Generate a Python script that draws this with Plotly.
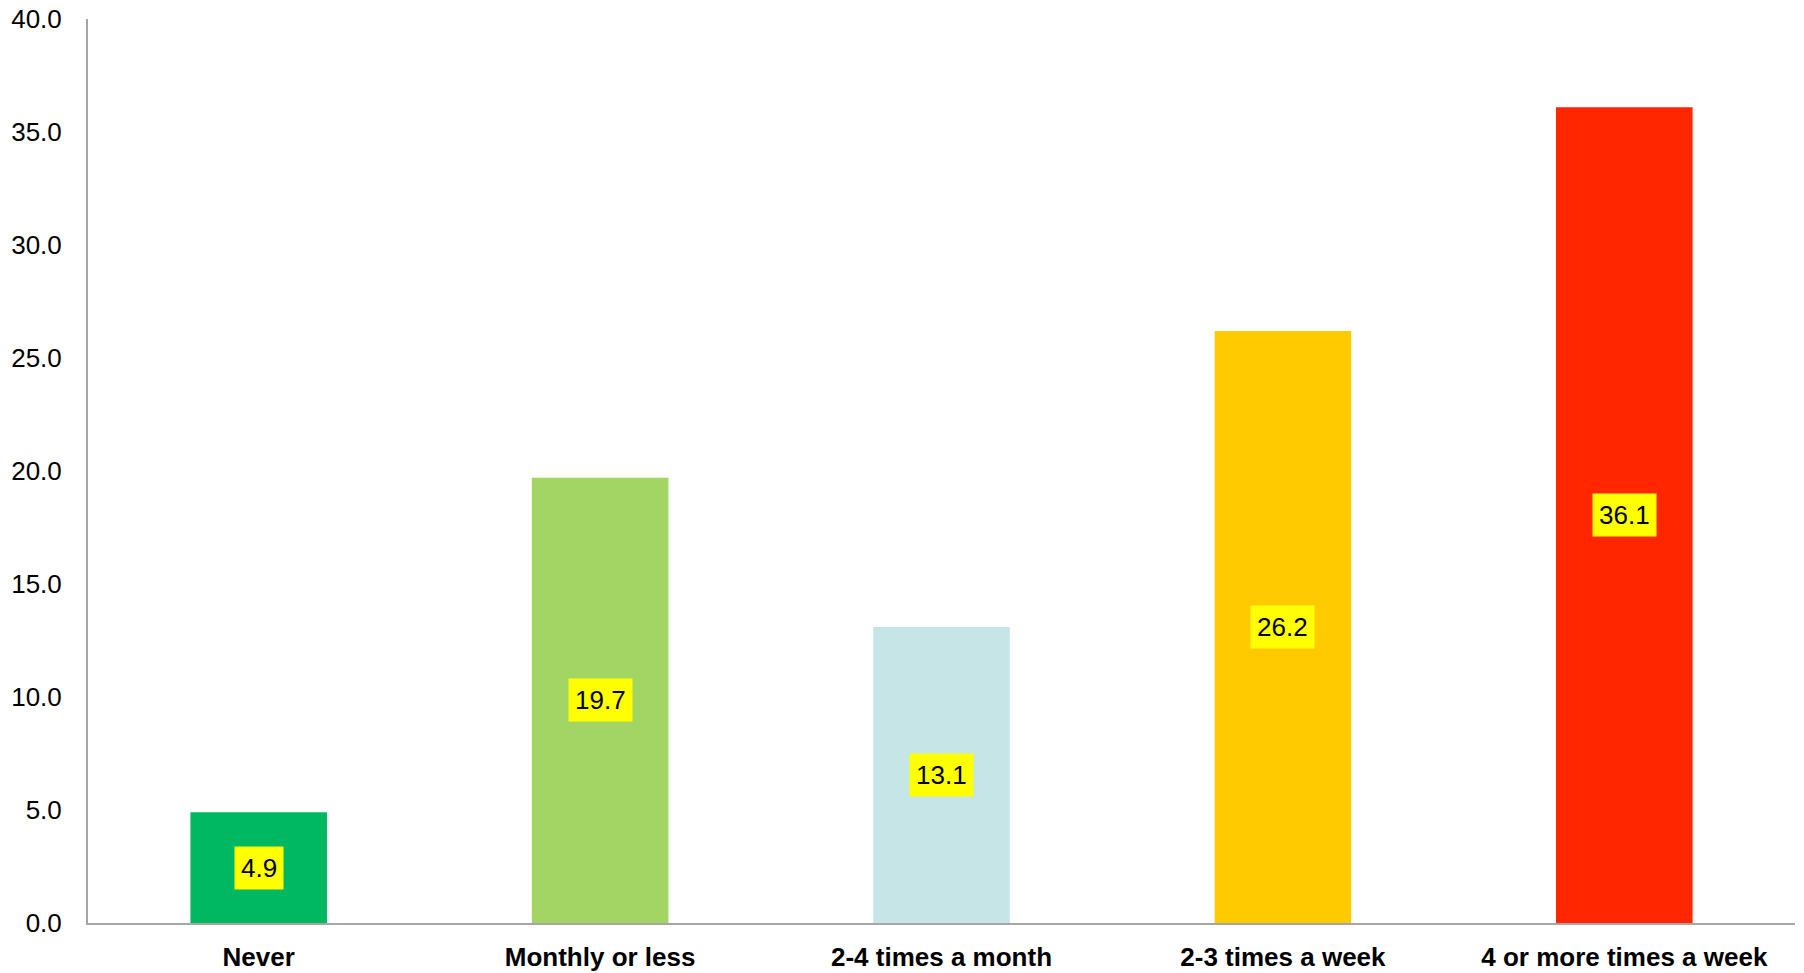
import plotly.graph_objects as go

categories = ["Never", "Monthly or less", "2-4 times a month", "2-3 times a week", "4 or more times a week"]
values = [4.9, 19.7, 13.1, 26.2, 36.1]
colors = ["#00B862", "#A2D563", "#C5E5E7", "#FFCA00", "#FF2600"]
y_ticks = [0, 5, 10, 15, 20, 25, 30, 35, 40]

FONT = "Liberation Sans, Arial, sans-serif"

fig = go.Figure()
fig.add_trace(go.Bar(x=categories, y=values, marker=dict(color=colors, line=dict(width=0)),
                     hoverinfo="x+y"))

for c, v in zip(categories, values):
    fig.add_annotation(x=c, y=v / 2, text=f"{v:.1f}", showarrow=False,
                       bgcolor="#FFFF00", borderpad=6,
                       font=dict(family=FONT, size=26, color="#000000"))

fig.update_layout(
    width=1804, height=973,
    margin=dict(l=88, r=9, t=19, b=50),
    paper_bgcolor="white", plot_bgcolor="white",
    bargap=0.6,
    showlegend=False,
    font=dict(family=FONT, size=26, color="#000000"),
)
fig.update_xaxes(
    showline=True, linecolor="#A6A6A6", linewidth=2, automargin=False,
    showgrid=False, ticks="", ticklabelstandoff=10, ticklabeloverflow="allow",
    tickfont=dict(family=FONT, size=26, color="#000000", weight="bold"),
)
fig.update_yaxes(
    range=[0, 40], tickvals=y_ticks, ticktext=[f"{t:.1f}" for t in y_ticks],
    showline=True, linecolor="#A6A6A6", linewidth=2, automargin=False,
    showgrid=False, zeroline=False, ticks="", ticklabelstandoff=19, ticklabeloverflow="allow",
    tickfont=dict(family=FONT, size=26, color="#000000"),
)

# remove the default 8px page margin so the figure fills the 1804x973 window exactly
fig.write_html("out.html", config={"displayModeBar": False},
               post_script="document.body.style.margin='0';")
